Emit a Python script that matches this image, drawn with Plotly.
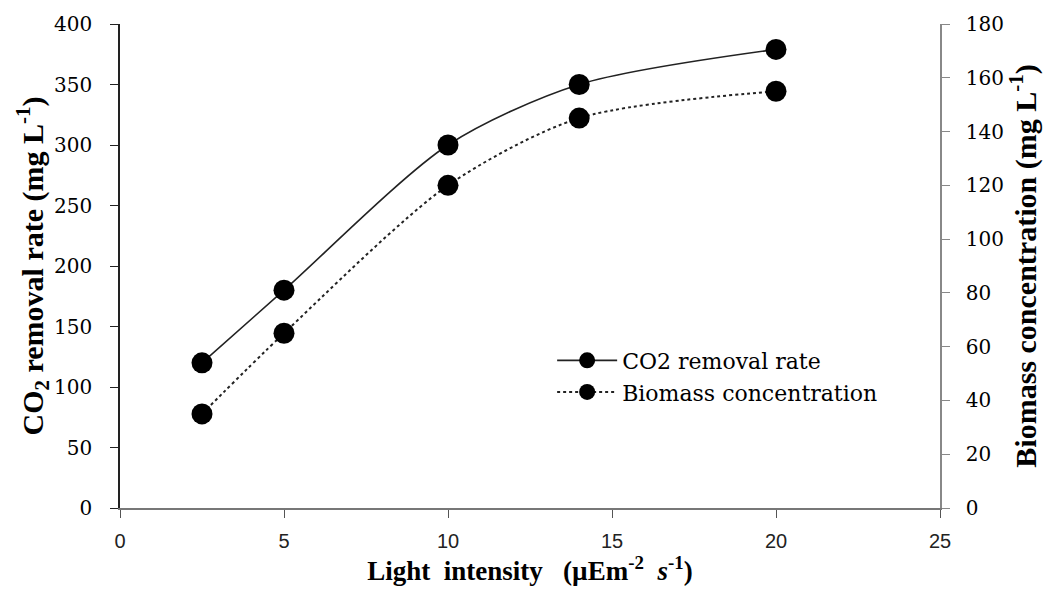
import plotly.graph_objects as go

light = [2.5, 5, 10, 14, 20]
co2_removal = [120, 180, 300, 350, 379]
biomass = [35, 65, 120, 145, 155]

x_ticks = [0, 5, 10, 15, 20, 25]
left_ticks = list(range(0, 401, 50))
right_ticks = list(range(0, 181, 20))

serif_bold = "Liberation Serif"
serif_reg = "DejaVu Serif"
sans = "Liberation Sans"

fig = go.Figure()
fig.add_trace(go.Scatter(
    x=light, y=co2_removal, name="CO2 removal rate", mode="lines+markers",
    line=dict(color="#222222", width=1.6, shape="spline", smoothing=0.8),
    marker=dict(color="black", size=21), yaxis="y"))
fig.add_trace(go.Scatter(
    x=light, y=biomass, name="Biomass concentration", mode="lines+markers",
    line=dict(color="#222222", width=2, dash="dot", shape="spline", smoothing=0.8),
    marker=dict(color="black", size=21), yaxis="y2"))

fig.update_layout(
    width=1049, height=601,
    margin=dict(l=120, r=109, t=20, b=93),
    plot_bgcolor="white", paper_bgcolor="white",
    font=dict(family=serif_reg, size=20, color="black"),
    showlegend=True,
    legend=dict(x=0.527, y=0.348, xanchor="left", yanchor="top",
                font=dict(family=serif_reg, size=22, color="black"),
                bgcolor="rgba(0,0,0,0)", itemwidth=60, tracegroupgap=1),
    xaxis=dict(range=[0, 25], tickvals=x_ticks, showgrid=False, zeroline=False,
               showline=True, linecolor="#777777", linewidth=2,
               ticks="outside", ticklen=8, tickcolor="#555555",
               ticklabelstandoff=6,
               tickfont=dict(family=sans, size=20, color="#222222"),
               title=dict(text="<b>Light  intensity   (µEm<sup>-2</sup>  <i>s</i><sup>-1</sup>)</b>",
                          font=dict(family=serif_bold, size=27), standoff=10)),
    yaxis=dict(range=[0, 400], tickvals=left_ticks, showgrid=False, zeroline=False,
               showline=True, linecolor="#222222", linewidth=1.5,
               ticks="outside", ticklen=8, tickcolor="#222222",
               ticklabelstandoff=14,
               tickfont=dict(family=serif_reg, size=20),
               title=dict(text="<b>CO<sub>2</sub> removal rate (mg L<sup>-1</sup>)</b>",
                          font=dict(family=serif_bold, size=30), standoff=2)),
    yaxis2=dict(range=[0, 180], tickvals=right_ticks, overlaying="y", side="right",
                showgrid=False, zeroline=False,
                showline=True, linecolor="#888888", linewidth=1.5,
                ticks="outside", ticklen=8, tickcolor="#888888",
                ticklabelstandoff=12,
                tickfont=dict(family=serif_reg, size=20),
                title=dict(text="<b>Biomass concentration (mg L<sup>-1</sup>)</b>",
                           font=dict(family=serif_bold, size=30), standoff=6)),
)

fig.write_html("out.html")
